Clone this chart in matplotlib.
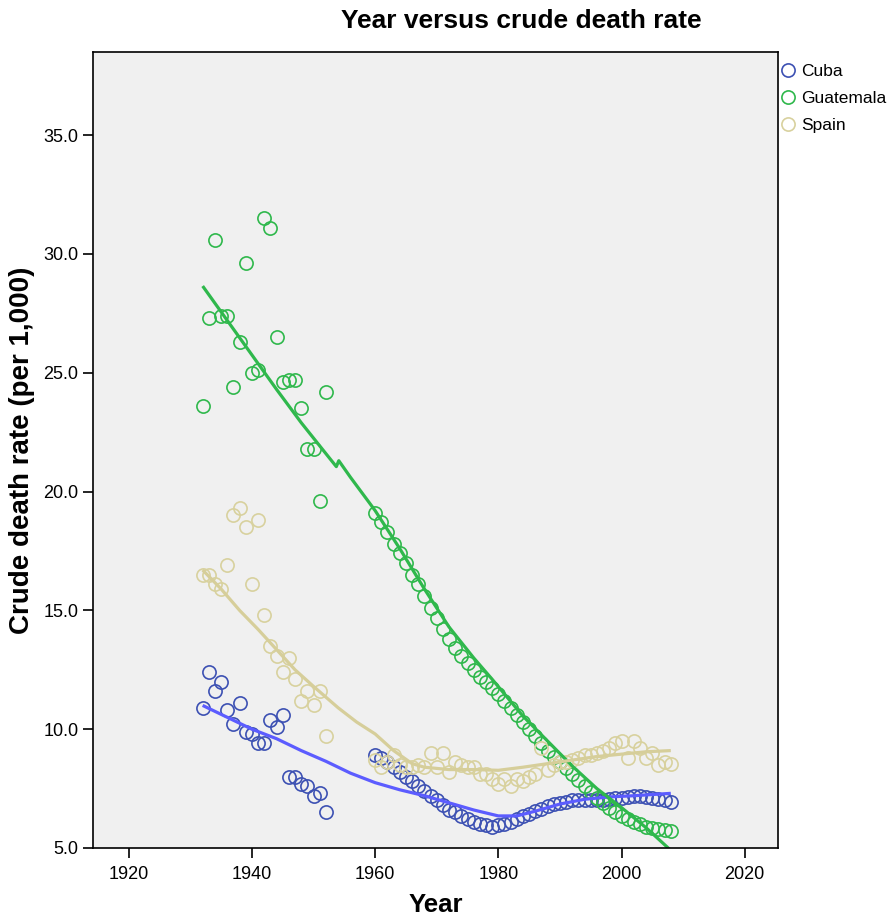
import matplotlib
matplotlib.use("Agg")
import matplotlib.pyplot as plt
from matplotlib.ticker import FormatStrFormatter

plt.rcParams['font.family'] = ['Liberation Sans Narrow', 'Liberation Sans', 'DejaVu Sans']

# observed years: 1932-1952 and 1960-2008
years = list(range(1932, 1953)) + list(range(1960, 2009))

cuba = [10.9, 12.4, 11.6, 12.0, 10.8, 10.2, 11.1, 9.9, 9.8, 9.4, 9.4, 10.4, 10.1, 10.6,
        8.0, 8.0, 7.7, 7.6, 7.2, 7.3, 6.5,
        8.9, 8.8, 8.6, 8.4, 8.2, 8.0, 7.8, 7.6, 7.4, 7.2, 7.0, 6.8, 6.6, 6.5, 6.35,
        6.2, 6.1, 6.0, 5.95, 5.9, 5.95, 6.0, 6.1, 6.2, 6.35, 6.45, 6.55, 6.65, 6.75,
        6.85, 6.9, 6.95, 7.0, 7.0, 7.0, 7.0, 7.0, 7.0, 7.05, 7.1, 7.1, 7.15, 7.2,
        7.2, 7.15, 7.1, 7.05, 7.0, 6.95]
guatemala = [23.6, 27.3, 30.6, 27.4, 27.4, 24.4, 26.3, 29.6, 25.0, 25.1, 31.5, 31.1, 26.5, 24.6,
             24.7, 24.7, 23.5, 21.8, 21.8, 19.6, 24.2,
             19.1, 18.7, 18.3, 17.8, 17.4, 17.0, 16.5, 16.1, 15.6, 15.1, 14.7, 14.2, 13.8,
             13.4, 13.1, 12.8, 12.5, 12.2, 12.0, 11.75, 11.5, 11.2, 10.9, 10.6, 10.3, 10.0,
             9.7, 9.4, 9.1, 8.85, 8.6, 8.35, 8.1, 7.85, 7.6, 7.35, 7.1, 6.9, 6.7, 6.5,
             6.35, 6.2, 6.1, 6.0, 5.9, 5.85, 5.8, 5.75, 5.7]
spain = [16.5, 16.5, 16.1, 15.9, 16.9, 19.0, 19.3, 18.5, 16.1, 18.8, 14.8, 13.5, 13.1, 12.4,
         13.0, 12.1, 11.2, 11.6, 11.0, 11.6, 9.7,
         8.7, 8.4, 8.6, 8.9, 8.5, 8.4, 8.4, 8.5, 8.4, 9.0, 8.4, 9.0, 8.2, 8.6, 8.5, 8.4,
         8.4, 8.1, 8.1, 7.9, 7.7, 7.9, 7.6, 7.9, 7.8, 8.0, 8.1, 9.2, 8.3, 8.5, 8.6, 8.6,
         8.7, 8.8, 8.9, 8.9, 9.0, 9.1, 9.2, 9.4, 9.5, 8.8, 9.5, 9.2, 8.8, 9.0, 8.5, 8.6,
         8.55]

# fit lines
cuba_fit_x = [1932, 1936, 1940, 1944, 1948, 1952, 1956, 1960, 1964, 1968, 1972, 1976,
              1980, 1983, 1986, 1990, 1994, 1998, 2002, 2005, 2008]
cuba_fit_y = [11.0, 10.5, 10.0, 9.6, 9.1, 8.65, 8.15, 7.75, 7.45, 7.2, 6.9, 6.6,
              6.35, 6.35, 6.55, 6.85, 7.05, 7.15, 7.2, 7.25, 7.3]
guat_fit_x = [1932, 1936, 1940, 1944, 1948, 1952, 1953.7, 1954.1, 1956, 1960, 1964, 1968,
              1972, 1976, 1979, 1984, 1988, 1992, 1996, 2000, 2004, 2008]
guat_fit_y = [28.65, 27.2, 25.75, 24.3, 22.9, 21.6, 21.05, 21.3, 20.6, 19.2, 17.6, 15.9,
              14.3, 13.0, 12.1, 10.55, 9.5, 8.45, 7.5, 6.7, 5.85, 4.9]
spain_fit_x = [1932, 1935, 1938, 1941, 1944, 1947, 1950, 1954, 1957, 1960, 1963, 1966,
               1968, 1972, 1976, 1980, 1984, 1988, 1992, 1996, 2000, 2004, 2008]
spain_fit_y = [16.7, 15.9, 15.0, 14.2, 13.35, 12.5, 11.8, 10.9, 10.3, 9.8, 9.1, 8.55,
               8.4, 8.3, 8.3, 8.27, 8.4, 8.55, 8.7, 8.85, 8.95, 9.05, 9.1]

countries = ['Cuba', 'Guatemala', 'Spain']
marker_colors = ['#3d51b3', '#2fb84c', '#d8d19e']
line_colors = ['#5c5cff', '#2fb84c', '#d6ce9a']

fig = plt.figure(figsize=(8.9, 9.24), dpi=100)
ax = fig.add_axes([93 / 890, 76 / 924, 685 / 890, 796 / 924])
ax.set_facecolor('#f0f0f0')

series = [cuba, guatemala, spain]
fits = [(cuba_fit_x, cuba_fit_y), (guat_fit_x, guat_fit_y), (spain_fit_x, spain_fit_y)]

for name, vals, mc in zip(countries, series, marker_colors):
    ax.plot(years, vals, linestyle='none', marker='o', markersize=9.5,
            markerfacecolor='none', markeredgecolor=mc, markeredgewidth=1.2, label=name)

for (fx, fy), lc in zip(fits, line_colors):
    ax.plot(fx, fy, color=lc, linewidth=2.3, solid_capstyle='butt')

ax.set_xlim(1914.2, 2025.4)
ax.set_ylim(5.0, 38.5)
ax.set_xticks([1920, 1940, 1960, 1980, 2000, 2020])
ax.set_yticks([5, 10, 15, 20, 25, 30, 35])
ax.yaxis.set_major_formatter(FormatStrFormatter('%.1f'))
ax.tick_params(axis='both', direction='out', length=7, width=1.2, labelsize=13,
               colors='black')
ax.tick_params(axis='x', pad=6)
for sp in ax.spines.values():
    sp.set_linewidth(1.2)

ax.set_xlabel('Year', fontsize=18.5, fontweight='bold', labelpad=7)
ax.set_ylabel('Crude death rate (per 1,000)', fontsize=20, fontweight='bold', labelpad=6)
fig.text(521 / 890, 1 - 21 / 924, 'Year versus crude death rate', ha='center', va='center',
         fontsize=19, fontweight='bold')

ax.legend(loc='upper left', bbox_to_anchor=(0.997, 0.994), frameon=False, fontsize=12.5,
          handlelength=0.6, handletextpad=0.45, borderaxespad=0.1, labelspacing=0.7,
          borderpad=0.3)

fig.savefig('out.png', dpi=100)
